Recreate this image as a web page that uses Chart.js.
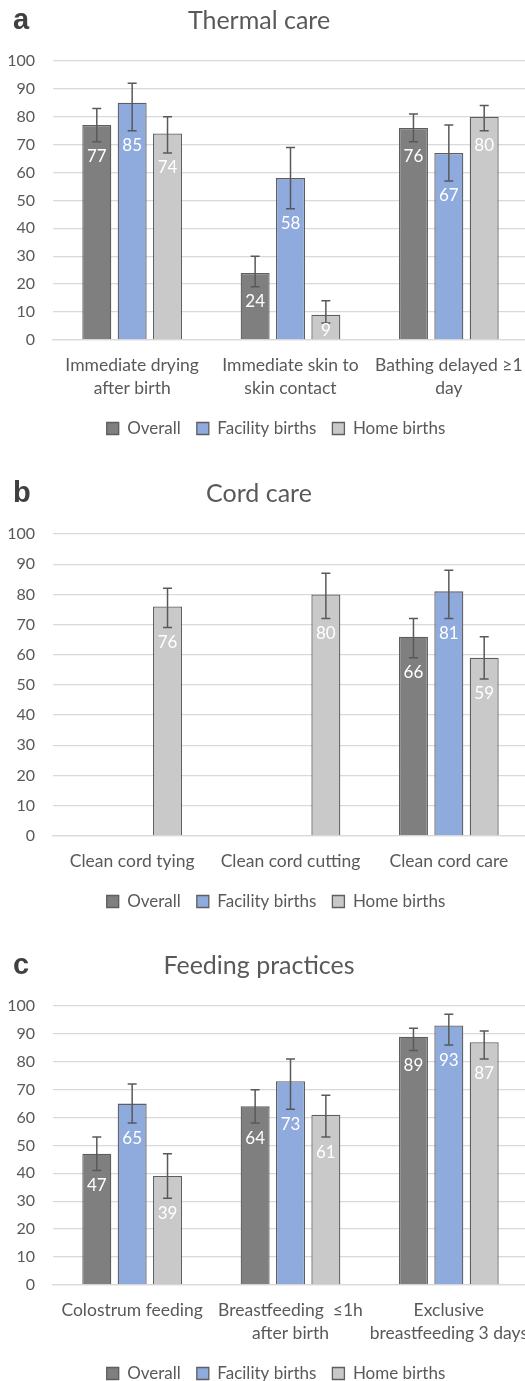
<!DOCTYPE html>
<html>
<head>
<meta charset="utf-8">
<script src="https://cdn.jsdelivr.net/npm/chart.js@4.4.1/dist/chart.umd.min.js"></script>
<style>
  html, body { margin: 0; padding: 0; background: #fff; overflow: hidden; }
  body { width: 525px; height: 1381px; position: relative; }
  .panel { position: absolute; left: 0; width: 525px; height: 472px; overflow: hidden; }
  .panel canvas { position: absolute; left: 0; top: 0; }
  .tag { position: absolute; left: 13px; font: bold 29px "Liberation Sans", Arial, sans-serif; color: #404040; }
</style>
</head>
<body>
<div class="panel" style="top:0px"><canvas id="chartA" width="528" height="472"></canvas><div class="tag" style="top:3px">a</div></div>
<div class="panel" style="top:473px"><canvas id="chartB" width="528" height="472"></canvas><div class="tag" style="top:3px">b</div></div>
<div class="panel" style="top:945px"><canvas id="chartC" width="528" height="472"></canvas><div class="tag" style="top:3px">c</div></div>
<script>
// series names
var seriesNames = ['Overall', 'Facility births', 'Home births'];

// a - thermal care
var thermalLabels = [['Immediate drying', 'after birth'], ['Immediate skin to', 'skin contact'], ['Bathing delayed \u22651', 'day']];
var thermalOverall = [77, 24, 76];
var thermalOverallLo = [71, 19, 71];
var thermalOverallHi = [83, 30, 81];
var thermalFacility = [85, 58, 67];
var thermalFacilityLo = [75, 47, 57];
var thermalFacilityHi = [92, 69, 77];
var thermalHome = [74, 9, 80];
var thermalHomeLo = [67, 6, 75];
var thermalHomeHi = [80, 14, 84];

// b - cord care
var cordLabels = ['Clean cord tying', 'Clean cord cutting', 'Clean cord care'];
var cordOverall = [null, null, 66];
var cordOverallLo = [null, null, 59];
var cordOverallHi = [null, null, 72];
var cordFacility = [null, null, 81];
var cordFacilityLo = [null, null, 72];
var cordFacilityHi = [null, null, 88];
var cordHome = [76, 80, 59];
var cordHomeLo = [69, 72, 52];
var cordHomeHi = [82, 87, 66];

// c - feeding practices
var feedLabels = ['Colostrum feeding', ['Breastfeeding  \u22641h', 'after birth'], ['Exclusive', 'breastfeeding 3 days']];
var feedOverall = [47, 64, 89];
var feedOverallLo = [41, 58, 84];
var feedOverallHi = [53, 70, 92];
var feedFacility = [65, 73, 93];
var feedFacilityLo = [58, 63, 86];
var feedFacilityHi = [72, 81, 97];
var feedHome = [39, 61, 87];
var feedHomeLo = [31, 53, 81];
var feedHomeHi = [47, 68, 91];

var yTicks = [0, 10, 20, 30, 40, 50, 60, 70, 80, 90, 100];

var fillColors = ['#7f7f7f', '#8faadc', '#c9c9c9'];
var edgeColor = '#5e5e5e';
var textColor = '#595959';
var font = 'Lato, "Open Sans", sans-serif';

// error bars + white value labels, drawn through the scales
var errorBarPlugin = {
    id: 'errorBars',
    afterDatasetsDraw: function(chart) {
        var ctx = chart.ctx;
        var y = chart.scales.y;
        ctx.save();
        chart.data.datasets.forEach(function(ds, i) {
            var meta = chart.getDatasetMeta(i);
            meta.data.forEach(function(bar, j) {
                if (ds.data[j] == null) return;
                var top = y.getPixelForValue(ds.errHi[j]);
                var bot = y.getPixelForValue(ds.errLo[j]);
                ctx.strokeStyle = '#595959';
                ctx.lineWidth = 1.5;
                ctx.beginPath();
                ctx.moveTo(bar.x, top); ctx.lineTo(bar.x, bot);
                ctx.moveTo(bar.x - 4.5, top); ctx.lineTo(bar.x + 4.5, top);
                ctx.moveTo(bar.x - 4.5, bot); ctx.lineTo(bar.x + 4.5, bot);
                ctx.stroke();
            });
        });
        ctx.fillStyle = '#ffffff';
        ctx.font = '17px ' + font;
        ctx.textAlign = 'center';
        ctx.textBaseline = 'middle';
        var base = y.getPixelForValue(0);
        chart.data.datasets.forEach(function(ds, i) {
            var meta = chart.getDatasetMeta(i);
            meta.data.forEach(function(bar, j) {
                if (ds.data[j] == null) return;
                var ly = Math.min(y.getPixelForValue(ds.errLo[j]) + 15, base - 9);
                ctx.fillText(String(ds.data[j]), bar.x, ly);
            });
        });
        ctx.restore();
    },
    beforeDraw: function(chart) {
        // legend a little right of centre, title a little left, as in the original
        chart.legend.left += 12;
        chart.legend.right += 12;
        chart.titleBlock.left -= 5;
        chart.titleBlock.right -= 5;
    },
    afterDraw: function(chart) {
        chart.legend.left -= 12;
        chart.legend.right -= 12;
        chart.titleBlock.left += 5;
        chart.titleBlock.right += 5;
    }
};

function makeChart(id, title, labels, values, lows, highs) {
    var datasets = values.map(function(v, i) {
        return {
            label: seriesNames[i],
            data: v,
            errLo: lows[i],
            errHi: highs[i],
            backgroundColor: fillColors[i],
            borderColor: edgeColor,
            borderWidth: 1.3,
            barPercentage: 0.82,
            categoryPercentage: 0.67
        };
    });
    return new Chart(document.getElementById(id).getContext('2d'), {
        type: 'bar',
        data: { labels: labels, datasets: datasets },
        plugins: [errorBarPlugin],
        options: {
            responsive: false,
            animation: false,
            events: [],
            layout: { autoPadding: false, padding: { left: 0, right: 0, top: 0, bottom: 25 } },
            plugins: {
                title: {
                    display: true,
                    text: title,
                    color: textColor,
                    font: { family: font, size: 25, weight: 'normal' },
                    padding: { top: 6, bottom: 25 }
                },
                legend: {
                    position: 'bottom',
                    labels: {
                        color: textColor,
                        font: { family: font, size: 17 },
                        boxWidth: 12,
                        boxHeight: 12,
                        padding: 16
                    }
                },
                tooltip: { enabled: false }
            },
            scales: {
                x: {
                    grid: { display: false, drawTicks: false },
                    border: { display: true, color: '#d9d9d9', width: 1.3 },
                    afterFit: function(axis) {
                        axis.height -= 10;
                        axis.paddingLeft = 0;
                        axis.paddingRight = 0;
                    },
                    ticks: {
                        color: textColor,
                        font: { family: font, size: 17.5, lineHeight: 1.32 },
                        padding: 14,
                        maxRotation: 0,
                        autoSkip: false
                    }
                },
                y: {
                    min: 0,
                    max: 100,
                    afterBuildTicks: function(axis) { axis.ticks = yTicks.map(function(v) { return { value: v }; }); },
                    afterFit: function(axis) { axis.width = 53; },
                    grid: { color: '#d9d9d9', lineWidth: 1.3, drawTicks: false },
                    border: { display: false },
                    ticks: {
                        color: textColor,
                        font: { family: font, size: 16 },
                        padding: 18
                    }
                }
            }
        }
    });
}

makeChart('chartA', 'Thermal care', thermalLabels,
    [thermalOverall, thermalFacility, thermalHome],
    [thermalOverallLo, thermalFacilityLo, thermalHomeLo],
    [thermalOverallHi, thermalFacilityHi, thermalHomeHi]);
makeChart('chartB', 'Cord care', cordLabels,
    [cordOverall, cordFacility, cordHome],
    [cordOverallLo, cordFacilityLo, cordHomeLo],
    [cordOverallHi, cordFacilityHi, cordHomeHi]);
makeChart('chartC', 'Feeding practices', feedLabels,
    [feedOverall, feedFacility, feedHome],
    [feedOverallLo, feedFacilityLo, feedHomeLo],
    [feedOverallHi, feedFacilityHi, feedHomeHi]);
</script>
</body>
</html>
